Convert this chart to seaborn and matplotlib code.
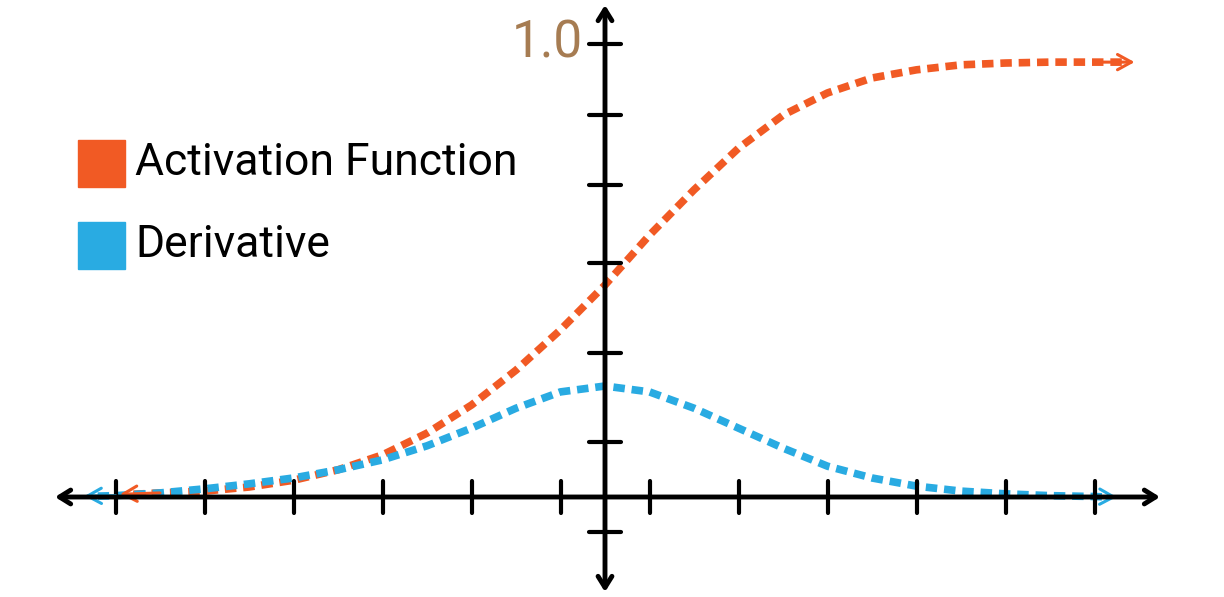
import numpy as np
import seaborn as sns
import matplotlib.pyplot as plt
from matplotlib.patches import Rectangle

# values (x in tick units, y scaled so top label = 1.0)
act_x = [-5.3, -5.0, -4.5, -4.0, -3.5, -3.0, -2.5, -2.0, -1.5, -1.0, -0.5, 0.0,
         0.5, 1.0, 1.5, 2.0, 2.5, 3.0, 3.5, 4.0, 4.5, 5.0, 5.5, 5.85]
act_y = [0.006, 0.009, 0.013, 0.022, 0.037, 0.060, 0.093, 0.141, 0.203, 0.280, 0.369, 0.468,
         0.578, 0.678, 0.770, 0.843, 0.892, 0.925, 0.943, 0.954, 0.958, 0.960, 0.960, 0.960]
der_x = [-5.7, -5.5, -5.0, -4.5, -4.0, -3.5, -3.0, -2.5, -2.0, -1.5, -1.0, -0.5, 0.0,
         0.5, 1.0, 1.5, 2.0, 2.5, 3.0, 3.5, 4.0, 4.5, 5.0, 5.5, 5.65]
der_y = [0.002, 0.003, 0.009, 0.018, 0.029, 0.042, 0.060, 0.082, 0.113, 0.152, 0.196, 0.232, 0.245,
         0.232, 0.196, 0.152, 0.108, 0.068, 0.042, 0.024, 0.013, 0.007, 0.003, 0.001, 0.0]
x_ticks = [-5.5, -4.5, -3.5, -2.5, -1.5, -0.5, 0.5, 1.5, 2.5, 3.5, 4.5, 5.5]
y_ticks = [1.0, 0.843, 0.689, 0.517, 0.318, 0.121, -0.077]
labels = ["Activation Function", "Derivative"]

orange = "#F15A24"
blue = "#29ABE2"

sns.set_style("white")
plt.rcParams['font.family'] = ['Roboto', 'DejaVu Sans']

fig = plt.figure(figsize=(12.24, 5.97), dpi=100)
ax = fig.add_axes([0, 0, 1, 1])
ax.set_xlim(-605 / 89, (1224 - 605) / 89)
ax.set_ylim(-100 / 453, 497 / 453)
ax.axis("off")

dash = (0, (1.5, 0.9))
sns.lineplot(x=act_x, y=act_y, ax=ax, color=orange, lw=5.5, linestyle=dash, sort=False)
sns.lineplot(x=der_x, y=der_y, ax=ax, color=blue, lw=5.5, linestyle=dash, sort=False)


# open chevrons at the curve ends
def chevron(x0, y0, x1, y1, color):
    ax.annotate("", xy=(x1, y1), xytext=(x0, y0),
                arrowprops=dict(arrowstyle="->,head_length=1.0,head_width=0.55", color=color,
                                lw=2.2, shrinkA=0, shrinkB=0))


chevron(act_x[1], act_y[1], act_x[0] - 0.15, act_y[0], orange)
chevron(act_x[-2], act_y[-2], act_x[-1] + 0.1, act_y[-1], orange)
chevron(der_x[1], der_y[1], der_x[0] - 0.15, der_y[0], blue)
chevron(der_x[-2], der_y[-2], der_x[-1] + 0.1, der_y[-1], blue)

# axes with open arrow heads
arrow = dict(arrowstyle="<->,head_length=0.8,head_width=0.5", color="black", lw=3.5,
             shrinkA=0, shrinkB=0)
ax.annotate("", xy=(-550 / 89, 0), xytext=(555 / 89, 0), arrowprops=arrow)
ax.annotate("", xy=(0, -95 / 453), xytext=(0, 492 / 453), arrowprops=arrow)

for t in x_ticks:
    ax.plot([t, t], [-16 / 453, 16 / 453], color="black", lw=3)
for t in y_ticks:
    ax.plot([-16 / 89, 16 / 89], [t, t], color="black", lw=3)

ax.text(-0.25, 1.0, "1.0", color="#A67C52", fontsize=37, ha="right", va="center")

# legend squares
for i, (lab, col) in enumerate(zip(labels, [orange, blue])):
    y_top = 140 + i * 82
    fig.patches.append(Rectangle((78 / 1224, 1 - (y_top + 47) / 597), 47 / 1224, 47 / 597,
                                 transform=fig.transFigure, color=col))
    fig.text(135 / 1224, 1 - (y_top + 23) / 597, lab, fontsize=32, color="black",
             va="center", ha="left")

fig.savefig("out.png", dpi=100)
